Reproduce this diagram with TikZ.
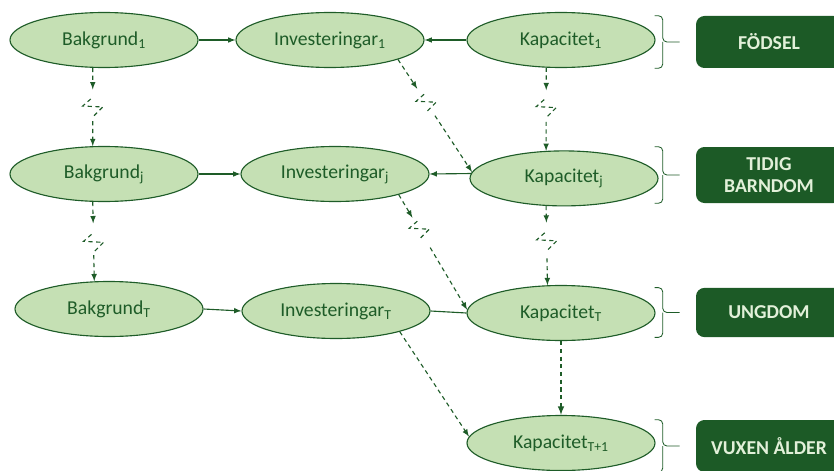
\documentclass[tikz,border=0pt]{standalone}
\usepackage{fontspec}
\setmainfont{Carlito}
\usepackage{tikz}
\usepackage{xcolor}
\usetikzlibrary{shapes,arrows,positioning,calc}
\definecolor{gr-light}{RGB}{197,224,180}
\definecolor{gr-dark}{RGB}{30,92,40}
\definecolor{gr-box}{RGB}{28,90,38}
\definecolor{gr-boxtext}{RGB}{226,240,217}
\tikzstyle{stage}=[ellipse,draw=gr-dark,line width=0.8pt,fill=gr-light,text=gr-dark,minimum width=4.7cm,minimum height=1.375cm,inner sep=0pt,font=\fontsize{14}{16}\selectfont]
\tikzstyle{phase}=[rectangle,rounded corners=6pt,fill=gr-box,text=gr-boxtext,minimum width=3.65cm,minimum height=1.3cm,align=center,font=\fontsize{14}{16}\selectfont\bfseries]
\tikzstyle{arrow}=[draw=gr-dark,line width=0.8pt,-latex]
\tikzstyle{link}=[draw=gr-dark,line width=0.8pt]
\tikzstyle{dasharrow}=[draw=gr-dark,line width=0.8pt,dash pattern=on 3pt off 2.5pt,-latex]
\tikzstyle{zig}=[draw=gr-dark,line width=0.8pt,dash pattern=on 3pt off 2.5pt]
\tikzstyle{bracket}=[draw=gr-dark,line width=0.6pt,rounded corners=3pt]
% arrow with a break: from, to, arrow end, break, restart (fractions)
\newcommand{\brokenlink}[5]{%
  \draw[dasharrow] (#1) -- ($(#1)!#3!(#2)$);
  \draw[zig] ($(#1)!#4!(#2)$) ++(-0.05,0.2) -- ++(-0.2,-0.175) -- ++(0.5,-0.025) -- ++(-0.25,-0.25);
  \draw[dasharrow] ($(#1)!#5!(#2)$) -- (#2);
}
% bracket left of a phase box
\newcommand{\phasebracket}[1]{%
  \draw[bracket] ($(#1.north west)+(-1.025,0)$) -- ($(#1.north west)+(-0.825,0)$) -- ($(#1.west)+(-0.825,0)$) -- ($(#1.west)+(-0.4,0)$);
  \draw[bracket] ($(#1.south west)+(-1.025,0)$) -- ($(#1.south west)+(-0.825,0)$) -- ($(#1.west)+(-0.825,0)$);
}

\begin{document}
\begin{tikzpicture}
    \useasboundingbox (0,0) rectangle (20.85,-11.75);
    \clip (0,0) rectangle (20.85,-11.75);

    \node[stage] at (2.6,-1.0) (bak1) {Bakgrund\textsubscript{1}};
    \node[stage] at (8.25,-1.0) (inv1) {Investeringar\textsubscript{1}};
    \node[stage] at (14.025,-1.0) (kap1) {Kapacitet\textsubscript{1}};

    \node[stage] at (2.6,-4.35) (bakj) {Bakgrund\textsubscript{j}};
    \node[stage] at (8.375,-4.35) (invj) {Investeringar\textsubscript{j}};
    \node[stage] at (14.1,-4.46) (kapj) {Kapacitet\textsubscript{j}};

    \node[stage] at (2.725,-7.725) (bakT) {Bakgrund\textsubscript{T}};
    \node[stage] at (8.4,-7.775) (invT) {Investeringar\textsubscript{T}};
    \node[stage] at (14.025,-7.825) (kapT) {Kapacitet\textsubscript{T}};

    \node[stage] at (14.025,-11.075) (kapT1) {Kapacitet\textsubscript{T+1}};

    \node[phase] at (19.225,-1.05) (birth) {FÖDSEL};
    \node[phase,minimum height=1.4cm] at (19.225,-4.375) (child) {TIDIG\\BARNDOM};
    \node[phase,minimum height=1.23cm] at (19.225,-7.8125) (youth) {UNGDOM};
    \node[phase] at (19.225,-11.15) (adult) {VUXEN ÅLDER};

    \phasebracket{birth}
    \phasebracket{child}
    \phasebracket{youth}
    \phasebracket{adult}

    \draw[arrow] (bak1) -- (inv1);
    \draw[arrow] (kap1) -- (inv1);
    \draw[arrow] (bakj) -- (invj);
    \draw[arrow] (kapj.177) -- (invj.east);
    \draw[arrow] (bakT.east) -- (invT.west);
    \draw[link] (invT.east) -- (kapT.west);

    \brokenlink{bak1.248}{bakj.112}{0.275}{0.5}{0.68}
    \brokenlink{bakj.248}{bakT.118}{0.27}{0.51}{0.67}
    \brokenlink{kap1.242}{kapj.123}{0.27}{0.48}{0.65}
    \brokenlink{kapj.237}{kapT.116}{0.21}{0.44}{0.66}
    \brokenlink{inv1.-16}{kapj.176}{0.26}{0.38}{0.5}
    \brokenlink{invj.-18}{kapT.178}{0.2}{0.3}{0.46}

    \draw[dasharrow,line width=1.1pt] (kapT) -- (kapT1);
    \draw[dasharrow] (invT.-18) -- (kapT1.176);
\end{tikzpicture}
\end{document}
